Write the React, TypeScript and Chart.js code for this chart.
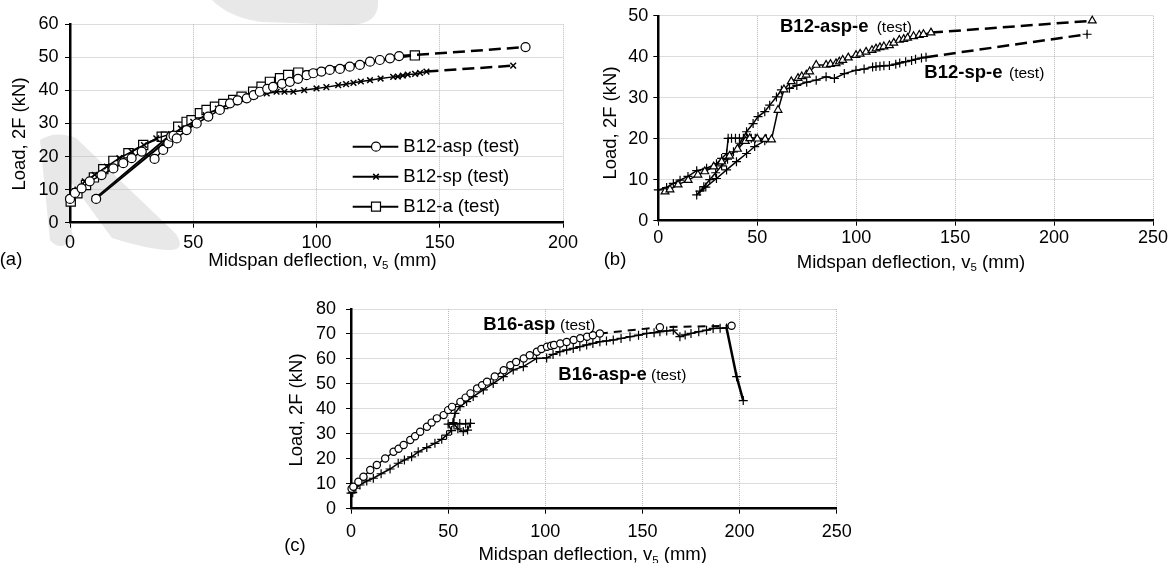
import React, { useEffect, useRef } from "react";
import { Chart, registerables } from "chart.js";
Chart.register(...registerables);

const FONT = '"Liberation Sans", Arial, Helvetica, sans-serif';

// ---------- Panel (a) ----------
const aAspX = [0, 2, 4.7, 8, 12.8, 17.6, 21.6, 25, 29.1, 34.3, 37.8, 39.9, 41, 10.6, 42, 43.3, 47.3, 51.4, 56.1, 60.8, 64.9, 68, 71.7, 74.5, 77, 80, 82.4, 86, 89.2, 92.5, 96, 98.7, 102, 105.4, 109.5, 113.5, 117.6, 121.7, 125.7, 129.8, 133.5, 184.8];
const aAspY = [7.2, 9, 10.4, 12.5, 14.4, 16.4, 18, 19.5, 21.5, 19.3, 22, 24, 26, 7.2, 26.3, 25.5, 28, 30, 32.1, 34.1, 36.1, 37, 37.6, 38.6, 39.6, 40.5, 41.1, 42, 42.6, 43.5, 44.6, 45.2, 45.7, 46.2, 46.5, 47.2, 47.7, 48.7, 49.2, 49.7, 50.4, 53.1];
const aSpX = [0, 3, 6, 10, 15, 20, 25, 30, 35, 41, 10, 40.5, 45, 50, 55, 60, 65, 70, 75, 79.8, 83.8, 87, 90.6, 95, 100, 104, 108.8, 112, 115, 118, 121.7, 126, 131.1, 133, 135, 137, 140, 142, 144.6, 179.8];
const aSpY = [7.5, 10, 12.5, 14.5, 17, 19.5, 21.5, 23.5, 25.5, 26.8, 7.3, 26.3, 28.5, 30.5, 32.5, 34.5, 36, 37.3, 38.5, 39.1, 39.6, 39.6, 39.6, 40.1, 40.6, 41, 41.6, 41.9, 42.3, 42.7, 43.1, 43.6, 44.1, 44.2, 44.5, 44.8, 45, 45.3, 45.7, 47.5];
const aAX = [0.3, 3, 6.5, 9.7, 13.5, 17.6, 23.7, 29.7, 37.2, 38.9, 43.9, 47.3, 49.3, 52.7, 55.4, 58.8, 62.2, 66.2, 69.6, 74.3, 77.7, 81.1, 85.2, 88.5, 92.6, 139.9];
const aAY = [6.4, 8.9, 11.4, 13.7, 16.2, 18.7, 21, 23.5, 26, 26, 29, 30.5, 31, 33.1, 34.1, 35.1, 35.9, 37.1, 38.1, 39.6, 41.1, 42.6, 43.7, 44.7, 45.4, 50.6];
const aLegend = ["B12-asp (test)", "B12-sp (test)", "B12-a (test)"];

// ---------- Panel (b) ----------
const bAspeX = [3.4, 5.9, 10, 15.1, 20, 23.5, 28, 32, 36, 40, 44, 46.2, 50, 54, 57.2, 60.5, 63.5, 67.2, 70.6, 72.5, 74.8, 76.5, 79.8, 84.8, 87, 89.8, 91.5, 93.2, 96, 99.9, 102, 105, 108, 110, 112, 114, 116.8, 119, 121.8, 124, 126, 129, 131.9, 134, 137.8, 219.3];
const bAspeY = [7.1, 7.6, 8.8, 9.9, 11.2, 12, 13.2, 14.4, 15.8, 17.5, 19.4, 20.1, 20, 19.9, 19.8, 27, 32, 34, 34.8, 35.2, 35.6, 36.4, 38, 38, 38.2, 38.4, 38.8, 39.2, 39.8, 40.4, 40.7, 41.2, 41.6, 42, 42.3, 42.5, 42.8, 43.4, 44.1, 44.3, 44.6, 45, 45.3, 45.5, 45.9, 48.8];
const bSpeX = [0, 4.2, 7.6, 11, 15, 19.4, 24.4, 29.4, 32, 34.5, 35.3, 37, 39, 41, 43, 45, 47, 49, 54.6, 53.8, 48.7, 44.6, 39.5, 34.5, 29.4, 24, 19.4, 21, 23, 26, 29, 32, 35, 38, 41.2, 44.6, 47.9, 50.4, 53.8, 56.3, 59.7, 62.2, 66.3, 70, 75, 79.8, 84.8, 89, 94, 99.9, 104, 108.3, 110, 112, 114, 116.8, 120, 122, 125, 128, 130, 133, 135.3, 216.7];
const bSpeY = [7.5, 8.1, 9.1, 9.9, 10.8, 12.2, 12.8, 13.9, 15.2, 16.4, 20.1, 20.1, 20.1, 20.1, 20.1, 20.1, 20.1, 20.1, 20, 19.5, 18.1, 16.4, 14.4, 12.4, 10.3, 8.2, 6.3, 7.2, 8.3, 10, 11.7, 13.4, 15, 16.8, 18.9, 21.7, 23.7, 25.4, 26.6, 28.2, 30.2, 31.9, 32.3, 33, 33.8, 34.3, 35.1, 34.7, 35.9, 36.7, 37, 37.5, 37.6, 37.7, 37.8, 37.9, 38.2, 38.5, 38.8, 39.1, 39.4, 39.7, 39.9, 45.5];

// ---------- Panel (c) ----------
const cAspX = [0.3, 1.2, 3.8, 6.4, 9.9, 13.3, 17.6, 21.9, 24.5, 27.1, 30.5, 33, 35.6, 39.1, 41.5, 44.2, 47.7, 50, 52, 56.3, 59, 61.5, 64.9, 67.5, 70, 74, 78.6, 82, 85, 88.9, 92, 95.7, 98, 100.9, 103, 104.5, 107.7, 111, 114.6, 118, 121.5, 124.5, 128.1, 159, 195.9];
const cAspY = [8, 8.8, 10.8, 12.8, 15.5, 17.5, 20.1, 22.8, 24, 25.5, 27.5, 29, 30.8, 32.8, 34.5, 36.2, 37.5, 39.5, 40.8, 42.8, 44.5, 46.2, 48.2, 49.5, 50.9, 53, 55.5, 57.5, 58.8, 60.2, 61.5, 62.9, 64, 64.9, 65.3, 65.6, 66.2, 66.8, 67.6, 68.3, 68.9, 69.5, 70.2, 72.7, 73.3];
const cAspeX = [0, 0.9, 2.5, 4.6, 8.1, 11.5, 15.5, 20.1, 24.3, 27.5, 31.2, 34.6, 39, 43.2, 46.7, 49.2, 51.8, 50, 53, 56, 59, 61.5, 60, 57.8, 55, 52.5, 53.5, 56.1, 59.5, 62.9, 68.1, 73.2, 78.4, 83.5, 88.7, 95.5, 100.7, 104, 107.5, 111, 114.4, 117.8, 121.3, 124.5, 128.1, 131.5, 135, 139, 143.6, 148, 152.2, 156, 159, 162.5, 165.9, 169.3, 172, 175, 179, 183, 186.4, 190, 193.3, 198.5, 201.9];
const cAspeY = [6.2, 6.4, 8.2, 9.5, 11.1, 12.2, 14, 15.9, 18.2, 19.5, 20.8, 22.8, 24.5, 26.2, 27.8, 29.5, 31.3, 33.9, 34, 34.1, 34, 34.2, 31.5, 30.9, 32, 34.5, 38.2, 40.9, 42.9, 44.9, 47.6, 50.2, 52.9, 55.6, 56.9, 60.2, 60.4, 61.8, 62.9, 63.6, 64.2, 64.9, 65.6, 66.2, 66.9, 67.2, 67.6, 68.2, 68.9, 69.5, 70.2, 70.5, 70.9, 71.2, 71.5, 68.9, 69.6, 70.2, 70.9, 71.5, 72.2, 72.3, 72.4, 52.9, 43.3];

const xTicksAB = [0, 50, 100, 150, 200, 250];

const zip = (xs: number[], ys: number[]) => xs.map((x, i) => ({ x, y: ys[i] }));

function scales(xMax: number, yMax: number, yWidth: number, yPad: number, xPad: number, xHeight: number) {
  const font = { family: FONT, size: 18 };
  const grid = { color: "#b9b9b9", lineWidth: 1, tickLength: 5, tickColor: "#000", tickWidth: 1, tickBorderDash: [] as number[] };
  const border = { display: true, color: "#000", width: 2.5, dash: [1, 1] };
  return {
    x: {
      type: "linear" as const, min: 0, max: xMax,
      afterBuildTicks: (s: any) => { s.ticks = xTicksAB.filter((v) => v <= xMax).map((v) => ({ value: v })); },
      ticks: { font, color: "#000", padding: xPad, maxRotation: 0, autoSkip: false },
      grid, border,
      afterFit: (s: any) => { s.height = xHeight; },
    },
    y: {
      type: "linear" as const, min: 0, max: yMax,
      ticks: { stepSize: 10, font, color: "#000", padding: yPad },
      grid, border,
      afterFit: (s: any) => { s.width = yWidth; },
    },
  };
}

function base(ds: any[], sc: any, padding: any, plugins: any[] = []) {
  return {
    type: "scatter" as const,
    data: { datasets: ds },
    options: {
      animation: false as const,
      responsive: false,
      devicePixelRatio: 1,
      layout: { padding },
      plugins: { legend: { display: false }, tooltip: { enabled: false } },
      scales: sc,
      events: [],
    },
    plugins,
  };
}

function series(xs: number[], ys: number[], o: any) {
  return {
    data: zip(xs, ys), showLine: true, tension: 0, fill: false, clip: false,
    borderColor: "#000", borderWidth: 1.5, pointBorderColor: "#000", pointBackgroundColor: "#fff",
    pointBorderWidth: 1.2, ...o,
  };
}

const dashLast = (n: number, dash: number[], w: number) => ({
  borderDash: (c: any) => (c.p0DataIndex >= n ? dash : undefined),
  borderWidth: (c: any) => (c.p0DataIndex >= n ? w : undefined),
});

const LEG_Y = [146.7, 176.7, 206.7];
const legendPlugin = {
  id: "legA",
  afterDraw(chart: any) {
    const ctx = chart.ctx as CanvasRenderingContext2D;
    ctx.save();
    aLegend.forEach((label, i) => {
      const y = LEG_Y[i];
      ctx.strokeStyle = "#000"; ctx.lineWidth = 2;
      ctx.beginPath(); ctx.moveTo(352.7, y); ctx.lineTo(398.3, y); ctx.stroke();
      const mx = 376;
      ctx.lineWidth = 1.2; ctx.fillStyle = "#fff";
      if (i === 0) { ctx.beginPath(); ctx.arc(mx, y, 4.5, 0, Math.PI * 2); ctx.fill(); ctx.stroke(); }
      else if (i === 1) { ctx.lineWidth = 1.5; const r = 2.8; ctx.beginPath(); ctx.moveTo(mx - r, y - r); ctx.lineTo(mx + r, y + r); ctx.moveTo(mx - r, y + r); ctx.lineTo(mx + r, y - r); ctx.stroke(); }
      else { ctx.beginPath(); ctx.rect(mx - 4.5, y - 4.5, 9, 9); ctx.fill(); ctx.stroke(); }
      ctx.fillStyle = "#000"; ctx.font = `18.5px ${FONT}`; ctx.textBaseline = "middle"; ctx.textAlign = "left";
      ctx.fillText(label, 403.3, y + 0.5);
    });
    ctx.restore();
  },
};

type TP = { x: number; y: number; size?: number; bold?: boolean; center?: boolean; rot?: boolean; children: React.ReactNode };
const T = ({ x, y, size = 18.5, bold, center, rot, children }: TP) => (
  <div style={{
    position: "absolute", left: x, top: y, fontSize: size, fontWeight: bold ? 700 : 400, lineHeight: 1,
    whiteSpace: "nowrap", color: "#000",
    transform: rot ? "translate(-50%,-50%) rotate(-90deg)" : center ? "translate(-50%,-50%)" : "translateY(-50%)",
  }}>{children}</div>
);
const Sub = ({ children }: { children: React.ReactNode }) => (
  <span style={{ fontSize: "0.62em", position: "relative", top: "0.3em", lineHeight: 0 }}>{children}</span>
);
const XTitle = () => <>Midspan deflection, v<Sub>5</Sub> (mm)</>;

export default function App() {
  const ra = useRef<HTMLCanvasElement>(null);
  const rb = useRef<HTMLCanvasElement>(null);
  const rc = useRef<HTMLCanvasElement>(null);

  useEffect(() => {
    const A = new Chart(ra.current!, base([
      series(aAspX, aAspY, { pointStyle: "circle", pointRadius: 4.5, segment: dashLast(aAspX.length - 2, [12, 6], 2.5) }),
      series(aSpX, aSpY, { pointStyle: "crossRot", pointRadius: 4, pointBorderWidth: 1.5, segment: dashLast(aSpX.length - 2, [12, 6], 2.5) }),
      series(aAX, aAY, { pointStyle: "rect", pointRadius: 6.5, borderWidth: 2 }),
    ] as any, scales(200, 60, 70, 6.5, 4.8, 30), { left: 0, top: 24.3, right: 37, bottom: 7.3 }, [legendPlugin]) as any);

    const B = new Chart(rb.current!, base([
      series(bAspeX, bAspeY, { pointStyle: "triangle", pointRadius: 4.5, segment: dashLast(bAspeX.length - 2, [12, 6], 2.5) }),
      series(bSpeX, bSpeY, { pointStyle: "cross", pointRadius: 4.5, pointBorderWidth: 1.2, segment: dashLast(bSpeX.length - 2, [12, 6], 2.5) }),
    ] as any, scales(250, 50, 58.3, 5, 1.8, 30), { left: 0, top: 15.7, right: 19, bottom: 9.3 }) as any);

    const C = new Chart(rc.current!, base([
      series(cAspX, cAspY, { pointStyle: "circle", pointRadius: 3.6, segment: dashLast(cAspX.length - 3, [8, 6], 2) }),
      series(cAspeX, cAspeY, { pointStyle: "cross", pointRadius: 4.5, pointBorderWidth: 1.2,
        segment: { borderWidth: (c: any) => (c.p0DataIndex >= cAspeX.length - 3 ? 2.5 : undefined) } }),
    ] as any, scales(250, 80, 71, 10, 7.1, 30), { left: 0, top: 29, right: 43.3, bottom: 24.3 }) as any);

    return () => { A.destroy(); B.destroy(); C.destroy(); };
  }, []);

  return (
    <div style={{ position: "fixed", left: 0, top: 0, width: 1172, height: 563, background: "#fff", overflow: "hidden", fontFamily: FONT }}>
      <svg width={1172} height={563} style={{ position: "absolute", left: 0, top: 0 }}>
        <path d="M212 0 L378 0 Q380 23 352 25 L262 22 Q230 18 212 0 Z" fill="#e8e8e8" />
        <path d="M40 140 Q55 130 76 138 L176 234 Q186 250 170 250 Q150 250 112 238 Z" fill="#e8e8e8" />
        <path d="M40 140 L70 150 L72 240 Q60 252 50 240 Z" fill="#e8e8e8" />
      </svg>
      <canvas ref={ra} width={600} height={260} style={{ position: "absolute", left: 0, top: 0, width: 600, height: 260 }} />
      <canvas ref={rb} width={572} height={260} style={{ position: "absolute", left: 600, top: 0, width: 572, height: 260 }} />
      <canvas ref={rc} width={600} height={283} style={{ position: "absolute", left: 280, top: 280, width: 600, height: 283 }} />

      <T x={322.5} y={260} center><XTitle /></T>
      <T x={911} y={261.5} center><XTitle /></T>
      <T x={592.7} y={554.3} center><XTitle /></T>

      <T x={19} y={133.7} rot>Load, 2F (kN)</T>
      <T x={610} y={122.5} rot>Load, 2F (kN)</T>
      <T x={295.5} y={410} rot>Load, 2F (kN)</T>

      <T x={11} y={258.5} center>(a)</T>
      <T x={615} y={258.5} center>(b)</T>
      <T x={295} y={545} center>(c)</T>

      <T x={780} y={25.8} bold>B12-asp-e</T>
      <T x={876.7} y={27.1} size={15.5}>(test)</T>
      <T x={924.3} y={72} bold>B12-sp-e</T>
      <T x={1009} y={73.3} size={15.5}>(test)</T>
      <T x={483.3} y={324} bold>B16-asp</T>
      <T x={560} y={325.3} size={15.5}>(test)</T>
      <T x={558.3} y={373.5} bold>B16-asp-e</T>
      <T x={651} y={374.8} size={15.5}>(test)</T>
    </div>
  );
}
